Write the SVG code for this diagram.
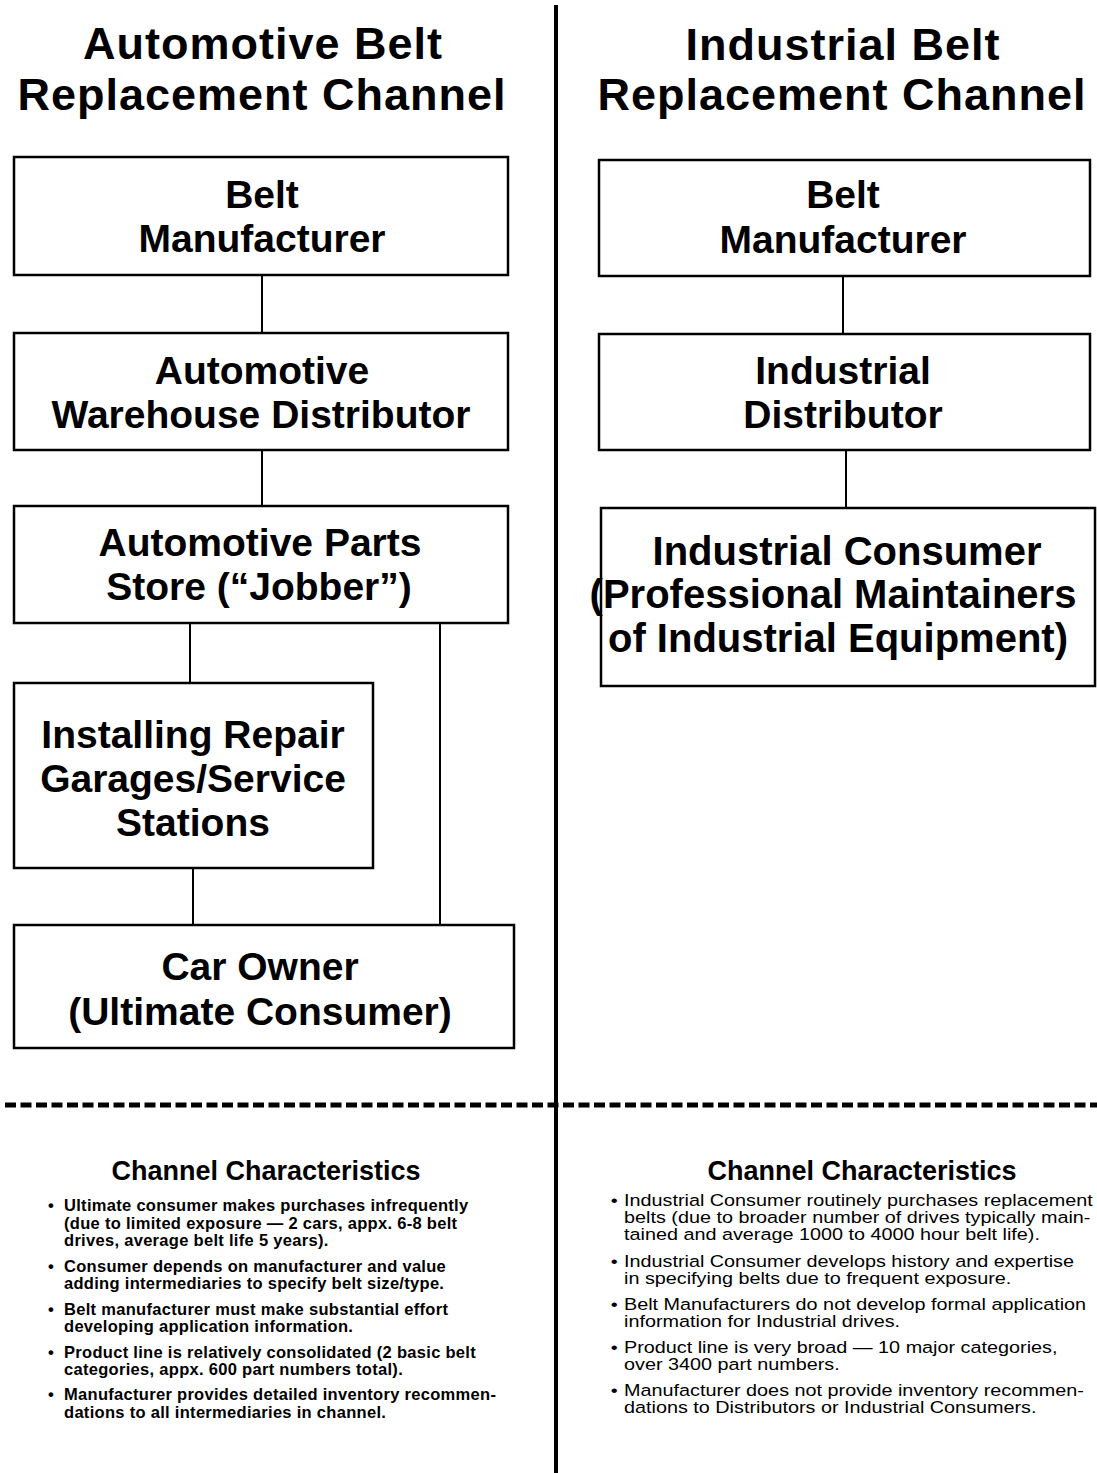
<svg xmlns="http://www.w3.org/2000/svg" width="1097" height="1473" viewBox="0 0 1097 1473">
  <style>
    .title { font-family: "Liberation Sans", Arial, sans-serif; font-weight: bold; font-size: 45px; letter-spacing: 1px; fill: #000; text-anchor: middle; }
    .node rect { fill: #fff; stroke: #000; stroke-width: 2.5; }
    .label { font-family: "Liberation Sans", Arial, sans-serif; font-weight: bold; font-size: 39px; fill: #000; text-anchor: middle; }
    .wire { stroke: #000; stroke-width: 2; fill: none; }
    .head { font-family: "Liberation Sans", Arial, sans-serif; font-weight: bold; font-size: 27px; fill: #000; text-anchor: middle; }
    .notes-l { font-family: "Liberation Sans", Arial, sans-serif; font-weight: bold; font-size: 16.5px; letter-spacing: 0.3px; fill: #000; }
    .notes-r { font-family: "Liberation Sans", Arial, sans-serif; font-size: 16.5px; fill: #000; }
  </style>
  <rect width="1097" height="1473" fill="#fff"/>

  <!-- column divider and section rule -->
  <line x1="556" y1="5" x2="556" y2="1473" stroke="#000" stroke-width="4"/>
  <line x1="5" y1="1105" x2="1097" y2="1105" stroke="#000" stroke-width="5" stroke-dasharray="11 4.5"/>

  <!-- column titles -->
  <text class="title" x="263" y="59">Automotive Belt</text>
  <text class="title" x="262" y="110">Replacement Channel</text>
  <text class="title" x="843" y="60">Industrial Belt</text>
  <text class="title" x="842" y="110">Replacement Channel</text>

  <!-- connectors -->
  <g id="connectors">
    <line class="wire" x1="262" y1="275" x2="262" y2="333"/>
    <line class="wire" x1="262" y1="450" x2="262" y2="506"/>
    <line class="wire" x1="190" y1="623" x2="190" y2="683"/>
    <line class="wire" x1="440" y1="623" x2="440" y2="925"/>
    <line class="wire" x1="193" y1="868" x2="193" y2="925"/>
    <line class="wire" x1="843" y1="276" x2="843" y2="334"/>
    <line class="wire" x1="846" y1="450" x2="846" y2="508"/>
  </g>

  <!-- automotive channel -->
  <g id="auto-manufacturer" class="node">
    <rect x="14" y="157" width="494" height="118"/>
    <text class="label" x="262" y="208">Belt</text>
    <text class="label" x="262" y="252">Manufacturer</text>
  </g>
  <g id="auto-warehouse" class="node">
    <rect x="14" y="333" width="494" height="117"/>
    <text class="label" x="262" y="384">Automotive</text>
    <text class="label" x="261" y="428">Warehouse Distributor</text>
  </g>
  <g id="auto-jobber" class="node">
    <rect x="14" y="506" width="494" height="117"/>
    <text class="label" x="260" y="556">Automotive Parts</text>
    <text class="label" x="259" y="600">Store (“Jobber”)</text>
  </g>
  <g id="auto-garages" class="node">
    <rect x="14" y="683" width="359" height="185"/>
    <text class="label" x="193" y="748">Installing Repair</text>
    <text class="label" x="193" y="792">Garages/Service</text>
    <text class="label" x="193" y="836">Stations</text>
  </g>
  <g id="auto-owner" class="node">
    <rect x="14" y="925" width="500" height="123"/>
    <text class="label" x="260" y="980">Car Owner</text>
    <text class="label" x="260" y="1025">(Ultimate Consumer)</text>
  </g>

  <!-- industrial channel -->
  <g id="ind-manufacturer" class="node">
    <rect x="599" y="160" width="491" height="116"/>
    <text class="label" x="843" y="208">Belt</text>
    <text class="label" x="843" y="253">Manufacturer</text>
  </g>
  <g id="ind-distributor" class="node">
    <rect x="599" y="334" width="491" height="116"/>
    <text class="label" x="843" y="384">Industrial</text>
    <text class="label" x="843" y="428">Distributor</text>
  </g>
  <g id="ind-consumer" class="node">
    <rect x="601" y="508" width="494" height="178"/>
    <text class="label" x="847" y="565" style="font-size:40px">Industrial Consumer</text>
    <text class="label" x="833" y="608" style="font-size:40px">(Professional Maintainers</text>
    <text class="label" x="838" y="652" style="font-size:40px">of Industrial Equipment)</text>
  </g>

  <!-- automotive characteristics -->
  <g id="auto-notes">
    <text class="head" x="266" y="1180">Channel Characteristics</text>
    <g class="notes-l">
      <text x="48" y="1211">•</text>
      <text x="64" y="1211">Ultimate consumer makes purchases infrequently</text>
      <text x="64" y="1229">(due to limited exposure — 2 cars, appx. 6-8 belt</text>
      <text x="64" y="1246">drives, average belt life 5 years).</text>
      <text x="48" y="1272">•</text>
      <text x="64" y="1272">Consumer depends on manufacturer and value</text>
      <text x="64" y="1289">adding intermediaries to specify belt size/type.</text>
      <text x="48" y="1315">•</text>
      <text x="64" y="1315">Belt manufacturer must make substantial effort</text>
      <text x="64" y="1332">developing application information.</text>
      <text x="48" y="1358">•</text>
      <text x="64" y="1358">Product line is relatively consolidated (2 basic belt</text>
      <text x="64" y="1375">categories, appx. 600 part numbers total).</text>
      <text x="48" y="1400">•</text>
      <text x="64" y="1400">Manufacturer provides detailed inventory recommen-</text>
      <text x="64" y="1418">dations to all intermediaries in channel.</text>
    </g>
  </g>

  <!-- industrial characteristics: wide-set type, stretched horizontally about x=624 -->
  <g id="ind-notes">
    <text class="head" x="862" y="1180">Channel Characteristics</text>
    <g class="notes-r" transform="matrix(1.2,0,0,1,-124.8,0)">
      <text x="613" y="1206">•</text>
      <text x="624" y="1206">Industrial Consumer routinely purchases replacement</text>
      <text x="624" y="1223">belts (due to broader number of drives typically main-</text>
      <text x="624" y="1240">tained and average 1000 to 4000 hour belt life).</text>
      <text x="613" y="1267">•</text>
      <text x="624" y="1267">Industrial Consumer develops history and expertise</text>
      <text x="624" y="1284">in specifying belts due to frequent exposure.</text>
      <text x="613" y="1310">•</text>
      <text x="624" y="1310">Belt Manufacturers do not develop formal application</text>
      <text x="624" y="1327">information for Industrial drives.</text>
      <text x="613" y="1353">•</text>
      <text x="624" y="1353">Product line is very broad — 10 major categories,</text>
      <text x="624" y="1370">over 3400 part numbers.</text>
      <text x="613" y="1396">•</text>
      <text x="624" y="1396">Manufacturer does not provide inventory recommen-</text>
      <text x="624" y="1413">dations to Distributors or Industrial Consumers.</text>
    </g>
  </g>
</svg>
